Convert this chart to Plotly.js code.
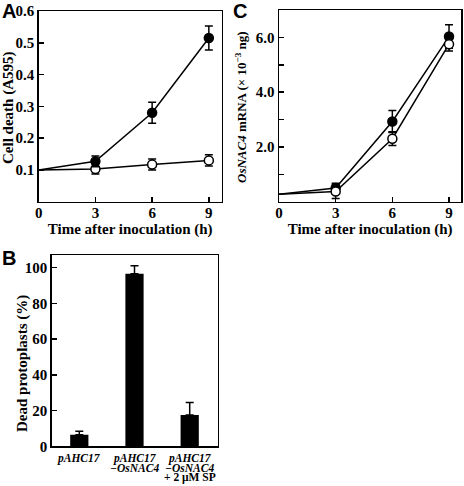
<!DOCTYPE html>
<html><head><meta charset="utf-8">
<script src="https://cdn.plot.ly/plotly-3.0.1.min.js"></script>
<style>html,body{margin:0;padding:0;background:#fff}#g{width:464px;height:486px}</style>
</head><body><div id="g"></div>
<script>
// Panel A / C: time course
const timeH = [0, 3, 6, 9];
const cellDeathFilled = [0.1, 0.127, 0.28, 0.515];
const cellDeathFilledErr = [0, 0.017, 0.033, 0.038];
const cellDeathOpen = [0.1, 0.103, 0.117, 0.13];
const cellDeathOpenErr = [0, 0.016, 0.017, 0.018];
const mrnaFilled = [0.27, 0.5, 2.93, 6.03];
const mrnaFilledErr = [0, 0.17, 0.4, 0.43];
const mrnaOpen = [0.27, 0.37, 2.3, 5.75];
const mrnaOpenErr = [0, 0.25, 0.25, 0.25];
// Panel B
const constructs = ["pAHC17", "pAHC17-OsNAC4", "pAHC17-OsNAC4+SP"];
const constructLines = [
  ["<i>pAHC17</i>"],
  ["<i>pAHC17</i>", "<i>−OsNAC4</i>"],
  ["<i>pAHC17</i>", "<i>−OsNAC4</i>", "+ 2 μM SP"]
];
const deadPct = [6.5, 96.5, 17.5];
const deadPctErr = [2, 4.5, 7];
const aTicks = [0.1, 0.2, 0.3, 0.4, 0.5, 0.6];
const aTickText = ["0.1", "0.2", "0.3", "0.4", "0.5", "0.6"];
const cTicks = [1, 2, 3, 4, 5, 6];
const cTickText = ["", "2.0", "", "4.0", "", "6.0"];
const timeTicks = [0, 3, 6, 9];
const bTicks = [0, 20, 40, 60, 80, 100];

const SERIF = "Liberation Serif, Times New Roman, serif";
const tf = {family: SERIF, size: 15, color: "#000", weight: "bold"};
const W = 464, H = 486;
const dx = (a, b) => [a / W, b / W];
const dy = (top, bot) => [1 - bot / H, 1 - top / H];

function seriesTraces(x, y, err, filled, xa, ya) {
  // connecting line through every point (incl. t = 0, which has no marker)
  const line = {x: x, y: y, xaxis: xa, yaxis: ya, type: "scatter", mode: "lines",
    line: {color: "#000", width: 1.5}, showlegend: false, hoverinfo: "skip"};
  // measured points (t > 0) with markers and error bars
  const pts = {x: x.slice(1), y: y.slice(1), xaxis: xa, yaxis: ya, type: "scatter", mode: "markers",
    marker: {symbol: "circle", size: 9, color: filled ? "#000" : "#fff", line: {color: "#000", width: 1.5}},
    error_y: {type: "data", array: err.slice(1), visible: true, color: "#000", thickness: 1.5, width: 4},
    showlegend: false, cliponaxis: false};
  return [line, pts];
}
const data = [].concat(
  seriesTraces(timeH, cellDeathOpen, cellDeathOpenErr, false, "x", "y"),
  seriesTraces(timeH, cellDeathFilled, cellDeathFilledErr, true, "x", "y"),
  seriesTraces(timeH, mrnaFilled, mrnaFilledErr, true, "x3", "y3"),
  seriesTraces(timeH, mrnaOpen, mrnaOpenErr, false, "x3", "y3"),
  [{x: constructs, y: deadPct, xaxis: "x2", yaxis: "y2", type: "bar",
   marker: {color: "#000"}, showlegend: false,
   error_y: {type: "data", array: deadPctErr, symmetric: false, arrayminus: [0, 0, 0], visible: true, color: "#000", thickness: 1.5, width: 4}}]
);

function axBase(extra) {
  return Object.assign({
    showline: true, linecolor: "#000", linewidth: 1.5, mirror: true,
    ticks: "inside", ticklen: 5, tickwidth: 1.5, tickcolor: "#000",
    showgrid: false, zeroline: false, tickfont: tf, fixedrange: true
  }, extra);
}
const titleFont = {family: SERIF, size: 15, color: "#000", weight: "bold"};
const labelFont = {family: "Liberation Sans, Arial, sans-serif", size: 20, color: "#000", weight: "bold"};

const annotations = [
  {text: "A", x: 0, y: 1, xref: "paper", yref: "paper", xanchor: "left", yanchor: "top", xshift: 0, yshift: 2, showarrow: false, font: labelFont},
  {text: "C", x: 231 / W, y: 1, xref: "paper", yref: "paper", xanchor: "left", yanchor: "top", yshift: 2, showarrow: false, font: labelFont},
  {text: "B", x: 0, y: 1 - 245 / H, xref: "paper", yref: "paper", xanchor: "left", yanchor: "top", showarrow: false, font: labelFont},
  {text: "Cell death (A595)", textangle: -90, x: 8 / W, y: 1 - 108 / H, xref: "paper", yref: "paper",
   xanchor: "center", yanchor: "middle", showarrow: false, font: titleFont},
  {text: "<i>OsNAC4</i> mRNA (× 10<sup>−3</sup> ng)", textangle: -90, x: 241 / W, y: 1 - 107 / H, xref: "paper", yref: "paper",
   xanchor: "center", yanchor: "middle", showarrow: false, font: Object.assign({}, titleFont, {size: 13})},
  {text: "Dead protoplasts (%)", textangle: -90, x: 22 / W, y: 1 - 364 / H, xref: "paper", yref: "paper",
   xanchor: "center", yanchor: "middle", showarrow: false, font: titleFont}
];
const lineY = [458, 467.5, 477];
constructLines.forEach((lines, i) => {
  lines.forEach((t, j) => {
    annotations.push({text: "<b>" + t + "</b>", x: constructs[i], xref: "x2", y: 1 - lineY[j] / H, yref: "paper",
      xanchor: "center", yanchor: "middle", showarrow: false,
      font: {family: SERIF, size: 11.5, color: "#000"}});
  });
});

const layout = {
  width: W, height: H, margin: {l: 0, r: 0, t: 0, b: 0},
  paper_bgcolor: "#fff", plot_bgcolor: "#fff", bargap: 0.67,
  xaxis: axBase({domain: dx(38.7, 221.7), range: [0, 9.68], tickvals: timeTicks, anchor: "y", ticklabelstandoff: -3,
    title: {text: "Time after inoculation (h)", font: titleFont, standoff: 0}}),
  yaxis: axBase({domain: dy(11, 201.7), range: [0, 0.6], tickvals: aTicks, ticktext: aTickText, anchor: "x"}),
  xaxis3: axBase({domain: dx(279, 461.3), range: [0, 9.65], tickvals: timeTicks, anchor: "y3", ticklabelstandoff: -3,
    title: {text: "Time after inoculation (h)", font: titleFont, standoff: 0}}),
  yaxis3: axBase({domain: dy(10, 201.7), range: [0, 7], tickvals: cTicks, ticktext: cTickText, anchor: "x3"}),
  xaxis2: axBase({domain: dx(51.7, 217.7), ticks: "", anchor: "y2", showticklabels: false}),
  yaxis2: axBase({domain: dy(255, 446.4), range: [0, 107], tickvals: bTicks, anchor: "x2"}),
  annotations: annotations
};
Plotly.newPlot("g", data, layout, {staticPlot: true, displayModeBar: false});
</script></body></html>
